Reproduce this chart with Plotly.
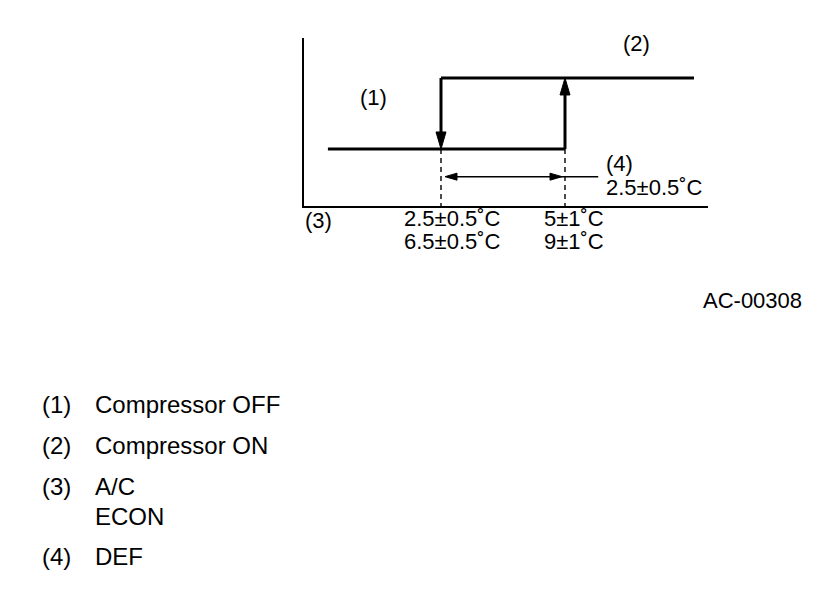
import plotly.graph_objects as go

# ---- data ----
level_names = ["OFF", "ON"]
level_values = [0, 1]
off_threshold = 2.5          # compressor switches OFF (A/C)
on_threshold = 5.0           # compressor switches ON (A/C)
line_start = 0.22
line_end = 7.6
dim_level = -0.39
dim_leader_end = 5.67
x_range = [-0.262, 7.883]
y_range = [-0.803, 1.563]

tick_positions = [off_threshold, on_threshold]
tick_labels_ac = ["2.5±0.5˚C", "5±1˚C"]
tick_labels_econ = ["6.5±0.5˚C", "9±1˚C"]
state_labels = ["(1)", "(2)"]
state_label_x = [1.13, 6.45]
state_label_y = [0.73, 1.48]
def_labels = ["(4)", "2.5±0.5˚C"]
mode_label = "(3)"
fig_code = "AC-00308"
legend_keys = ["(1)", "(2)", "(3)", "", "(4)"]
legend_texts = ["Compressor OFF", "Compressor ON", "A/C", "ECON", "DEF"]

# ---- layout constants ----
W, H = 832, 600
BODY = 8                       # default page margin of the html body
PL, PT, PW, PH = 304, 38, 404, 168   # plot area as seen on screen
L, T = PL - BODY, PT - BODY
R, B = W - L - PW, H - T - PH
FONT = "Liberation Sans, Arial, Helvetica, sans-serif"

xpp = (x_range[1] - x_range[0]) / PW   # data units per px
ypp = (y_range[1] - y_range[0]) / PH

def paper_x(px):
    return (px - PL) / PW

def paper_y(py):
    return (PT + PH - py) / PH

OFF, ON = level_values
fig = go.Figure()

line_style = dict(color="black", width=3)
fig.add_trace(go.Scatter(x=[line_start, on_threshold], y=[OFF, OFF], mode="lines", line=line_style, hoverinfo="skip"))
fig.add_trace(go.Scatter(x=[off_threshold, line_end], y=[ON, ON], mode="lines", line=line_style, hoverinfo="skip"))
fig.add_trace(go.Scatter(x=[off_threshold, off_threshold], y=[ON, OFF + 15 * ypp], mode="lines", line=line_style, hoverinfo="skip"))
fig.add_trace(go.Scatter(x=[on_threshold, on_threshold], y=[OFF, ON - 15 * ypp], mode="lines", line=line_style, hoverinfo="skip"))

def head(xtip, ytip, dx, dy, length, width):
    bx = xtip - dx * length * xpp
    by = ytip - dy * length * ypp
    nx, ny = -dy, dx
    p1 = (bx + nx * width / 2 * xpp, by + ny * width / 2 * ypp)
    p2 = (bx - nx * width / 2 * xpp, by - ny * width / 2 * ypp)
    fig.add_trace(go.Scatter(x=[xtip, p1[0], p2[0], xtip], y=[ytip, p1[1], p2[1], ytip],
                             mode="lines", fill="toself", fillcolor="black",
                             line=dict(color="black", width=1), hoverinfo="skip"))

head(off_threshold, OFF, 0, -1, 17, 10)
head(on_threshold, ON, 0, 1, 17, 10)

for xv in tick_positions:
    fig.add_trace(go.Scatter(x=[xv, xv], y=[OFF, y_range[0]], mode="lines",
                             line=dict(color="black", width=1.4, dash="5px,4px"), hoverinfo="skip"))

fig.add_trace(go.Scatter(x=[off_threshold + 8 * xpp, dim_leader_end], y=[dim_level, dim_level], mode="lines",
                         line=dict(color="black", width=1.5), hoverinfo="skip"))
head(off_threshold + 4 * xpp, dim_level, -1, 0, 12, 7)
head(on_threshold - 3 * xpp, dim_level, 1, 0, 12, 7)

CH = 22   # chart label size
annotations = []
def txt(x, y, text, size, xanchor="left", xref="paper", yref="paper", xshift=0):
    annotations.append(dict(x=x, y=y, xref=xref, yref=yref, text=text, showarrow=False,
                            xanchor=xanchor, yanchor="middle", xshift=xshift, font=dict(size=size)))

for t, xv, yv in zip(state_labels, state_label_x, state_label_y):
    txt(xv, yv, t, CH, xanchor="center", xref="x", yref="y")
for t, py in zip(def_labels, [163, 187]):
    txt(dim_leader_end + 6 * xpp, paper_y(py), t, CH, xref="x")
for xv, xs, a, e in zip(tick_positions, [-39, -23], tick_labels_ac, tick_labels_econ):
    txt(xv, paper_y(218), a, CH, xref="x", xshift=xs)
    txt(xv, paper_y(242), e, CH, xref="x", xshift=xs)
txt(0, paper_y(221), mode_label, CH, xshift=-1)
txt(paper_x(804), paper_y(300), fig_code, CH, xanchor="right")

LG = 24
legend_y = [404, 445, 486, 516, 556]
for k, t, yy in zip(legend_keys, legend_texts, legend_y):
    if k:
        txt(paper_x(40), paper_y(yy), k, LG)
    txt(paper_x(93), paper_y(yy), t, LG)

fig.update_layout(
    width=W, height=H,
    margin=dict(l=L, r=R, t=T, b=B, pad=0),
    paper_bgcolor="white", plot_bgcolor="white",
    showlegend=False,
    font=dict(family=FONT, color="black"),
    annotations=annotations,
    xaxis=dict(range=x_range, showline=True, linecolor="black", linewidth=2, showgrid=False,
               zeroline=False, showticklabels=False, ticks="", fixedrange=True),
    yaxis=dict(range=y_range, showline=True, linecolor="black", linewidth=1.5, showgrid=False,
               zeroline=False, showticklabels=False, ticks="", fixedrange=True),
)

fig.write_html("out.html")
